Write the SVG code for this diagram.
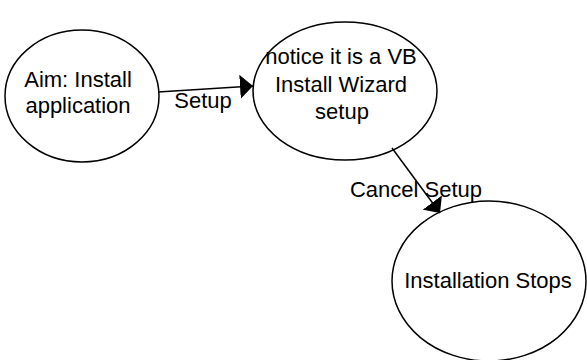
<svg xmlns="http://www.w3.org/2000/svg" width="587" height="360" viewBox="0 0 587 360">
  <style>
    .node ellipse { fill: #ffffff; stroke: #000000; stroke-width: 1.5; }
    .label { font-family: "Liberation Sans", Arial, sans-serif; font-size: 22px; fill: #000000; text-anchor: middle; }
    .edge { stroke: #000000; stroke-width: 1.5; fill: none; marker-end: url(#arrow); }
  </style>
  <defs>
    <marker id="arrow" viewBox="0 -12 13 24" markerWidth="13" markerHeight="24" refX="13" refY="0" orient="auto" markerUnits="userSpaceOnUse">
      <path d="M0,-12 L13,0 L0,12 z" fill="#000000"/>
    </marker>
  </defs>
  <rect width="587" height="360" fill="#ffffff"/>

  <g id="node-aim" class="node">
    <ellipse cx="82" cy="96" rx="77" ry="66"/>
    <text class="label" x="78" y="87">Aim: Install</text>
    <text class="label" x="78" y="113">application</text>
  </g>

  <g id="node-wizard" class="node">
    <ellipse cx="345" cy="91" rx="92" ry="69"/>
    <text class="label" x="341" y="64">notice it is a VB</text>
    <text class="label" x="341" y="92">Install Wizard</text>
    <text class="label" x="342" y="119">setup</text>
  </g>

  <g id="node-stops" class="node">
    <ellipse cx="489" cy="281" rx="97" ry="80"/>
    <text class="label" x="488" y="288">Installation Stops</text>
  </g>

  <g id="connectors">
    <line class="edge" x1="158" y1="92" x2="253" y2="86"/>
    <text class="label" x="203" y="108">Setup</text>
    <line class="edge" x1="392" y1="148" x2="440" y2="213"/>
    <text class="label" x="416" y="197">Cancel Setup</text>
  </g>
</svg>
